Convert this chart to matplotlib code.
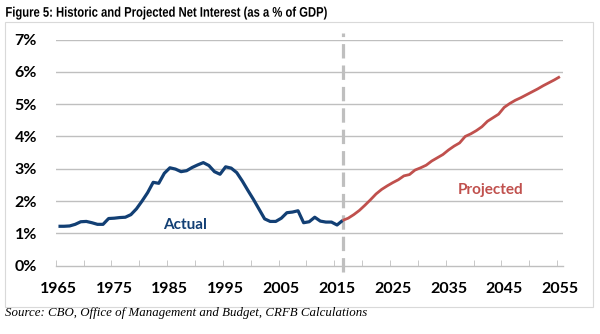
import numpy as np
import matplotlib
matplotlib.use("Agg")
import matplotlib.pyplot as plt
import matplotlib.patheffects as pe
from matplotlib.patches import Rectangle
from matplotlib.transforms import Affine2D

# Net interest as % of GDP
actual_years = list(range(1965, 2017))
actual_vals = [1.22, 1.22, 1.23, 1.28, 1.36, 1.37, 1.33, 1.28, 1.28, 1.46,
               1.47, 1.49, 1.50, 1.58, 1.76, 2.00, 2.26, 2.58, 2.55, 2.86,
               3.03, 2.99, 2.91, 2.94, 3.04, 3.12, 3.19, 3.10, 2.91, 2.83,
               3.06, 3.02, 2.88, 2.62, 2.33, 2.05, 1.75, 1.45, 1.37, 1.37,
               1.47, 1.64, 1.66, 1.70, 1.33, 1.36, 1.50, 1.38, 1.35, 1.35,
               1.26, 1.40]
proj_years = list(range(2016, 2056))
proj_vals = [1.40, 1.47, 1.58, 1.71, 1.87, 2.04, 2.22, 2.36, 2.47, 2.57,
             2.66, 2.78, 2.82, 2.96, 3.03, 3.11, 3.24, 3.34, 3.44, 3.58,
             3.70, 3.80, 4.00, 4.08, 4.18, 4.30, 4.47, 4.58, 4.69, 4.90,
             5.02, 5.12, 5.20, 5.29, 5.38, 5.47, 5.57, 5.66, 5.75, 5.85]
year_labels = list(range(1965, 2056, 10))
pct_ticks = list(range(0, 8))
split_year = 2016

BLUE = "#123f74"
RED = "#c0504d"
GRID = "#bfbfbf"


# squeeze text horizontally (no narrow font installed)
class Squeeze(pe.AbstractPathEffect):
    def __init__(self, sx, x0):
        super().__init__()
        self.sx, self.x0 = sx, x0

    def draw_path(self, renderer, gc, tpath, affine, rgbFace=None):
        sq = Affine2D().translate(-self.x0, 0).scale(self.sx, 1).translate(self.x0, 0)
        renderer.draw_path(gc, tpath, affine + sq, rgbFace)


fig = plt.figure(figsize=(6.0, 3.34), dpi=100)
ax = fig.add_axes([0.0928, 0.2045, 0.845, 0.6772])

for y in pct_ticks[1:]:
    ax.axhline(y, color=GRID, lw=1.0, zorder=1)

ax.plot(actual_years, actual_vals, color=BLUE, lw=2.3, zorder=3,
        solid_joinstyle="round", solid_capstyle="butt")
ax.plot(proj_years, proj_vals, color=RED, lw=2.0, zorder=3,
        solid_joinstyle="round", solid_capstyle="butt")

ax.axvline(split_year, ymin=-0.03, ymax=1.03, color=GRID, lw=2.3,
           dashes=(4.5, 2.2), clip_on=False, zorder=2)

ax.text(1987.7, 1.26, "Actual", color=BLUE, fontsize=11, fontweight="bold",
        family="Lato", ha="center", va="center")
ax.text(2042.5, 2.34, "Projected", color=RED, fontsize=11, fontweight="bold",
        family="Lato", ha="center", va="center")

ax.set_xlim(1964.5, 2055.5)
ax.set_ylim(0, 7)
ax.set_xticks(year_labels)
ax.set_xticklabels([str(y) for y in year_labels])
ax.set_xticks(np.arange(1964.5, 2055, 5), minor=True)
ax.set_yticks(pct_ticks)
ax.set_yticklabels([f"{y}%" for y in pct_ticks])
ax.tick_params(axis="x", which="major", length=0, pad=12)
ax.tick_params(axis="x", which="minor", length=4, direction="in", color=GRID)
ax.tick_params(axis="y", length=0, pad=13.5)
for lab in ax.get_xticklabels() + ax.get_yticklabels():
    lab.set_family("Lato")
    lab.set_fontweight("bold")
    lab.set_fontsize(11.5)

for s in ["top", "right", "left"]:
    ax.spines[s].set_visible(False)
ax.spines["bottom"].set_color(GRID)
ax.spines["bottom"].set_linewidth(1.0)

title = fig.text(0.009, 0.962, "Figure 5: Historic and Projected Net Interest (as a % of GDP)",
                 fontsize=10, fontweight="bold", family="Liberation Sans",
                 ha="left", va="center")
title.set_path_effects([Squeeze(0.81, 0.009 * 600)])
fig.text(0.009, 0.063, "Source: CBO, Office of Management and Budget, CRFB Calculations",
         fontsize=9.3, style="italic", family="Liberation Serif",
         ha="left", va="center")

fig.patches.append(Rectangle((5 / 600, 1 - 307 / 334), 588 / 600, 285 / 334,
                             transform=fig.transFigure, fill=False,
                             edgecolor="#d9d9d9", lw=0.8))

fig.savefig("out.png", dpi=100)
